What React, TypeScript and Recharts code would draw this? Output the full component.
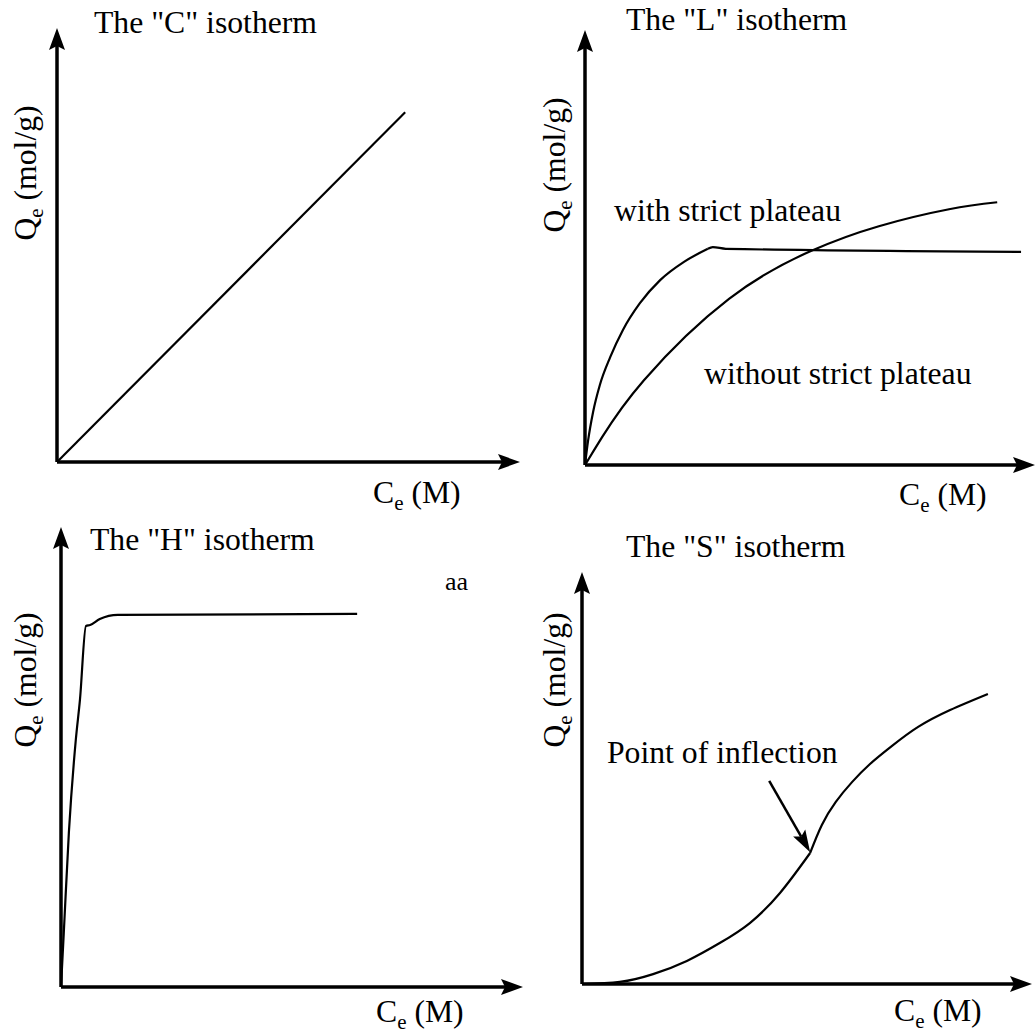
import React from "react";
import { LineChart, Line, XAxis, YAxis, ReferenceLine } from "recharts";

// values, 0..100 on both axes of each panel
const cX = [0, 75.2];
const cY = [0, 80.6];

const lRiseX = [0, 0.7, 1.8, 3.3, 5.6, 8.4, 12.2, 16.7, 22.0, 27.3];
const lRiseY = [0, 5.7, 12.2, 18.4, 24.8, 31.0, 37.2, 42.5, 46.7, 49.7];
const lFlatX = [27.3, 28.4, 31.3, 96.9];
const lFlatY = [49.7, 50.1, 49.7, 49.0];
const lFreeX = [0, 3.8, 13.1, 32.0, 50.2, 65.3, 80.9, 91.6];
const lFreeY = [0, 6.4, 19.5, 38.2, 49.2, 54.9, 58.8, 60.4];

const hX = [0, 0.6, 1.7, 3.2, 4.1, 5.4, 6.3, 8.4, 12.3, 64.1];
const hY = [0, 11.7, 33.5, 53.7, 62.4, 78.5, 78.7, 80.0, 80.9, 81.1];

const sLowX = [0, 8.4, 15.8, 23.3, 30.7, 37.3, 44.0, 50.7];
const sLowY = [0, 0.5, 2.4, 5.6, 10.0, 14.8, 22.1, 31.8];
const sHighX = [50.7, 53.3, 56.4, 60.0, 64.0, 68.9, 74.7, 81.8, 90.2];
const sHighY = [31.8, 38.6, 44.2, 49.0, 53.4, 57.8, 62.4, 66.5, 70.4];

// arrow pointing at the inflection point
const inflectionArrow = [
  { x: 41.6, y: 49.3 },
  { x: 50.7, y: 32.0 },
];

const toPoints = (xs: number[], ys: number[]) => xs.map((x, i) => ({ x, y: ys[i] }));

const FONT = "Liberation Serif, Times New Roman, serif";
const FS = 31.7;
const SUB = 21;
const PAD = 14;

type Geo = { ox: number; oy: number; xt: number; yt: number };
type Curve = "linear" | "monotone" | "natural";

const arrowShape = (len: number, half: number, width: number) => (props: any) => {
  const { x1, y1, x2, y2 } = props;
  const dx = x2 - x1;
  const dy = y2 - y1;
  const d = Math.sqrt(dx * dx + dy * dy) || 1;
  const ux = dx / d;
  const uy = dy / d;
  const bx = x2 - ux * len;
  const by = y2 - uy * len;
  const pts = [
    [x2, y2],
    [bx - uy * half, by + ux * half],
    [bx + ux * 4, by + uy * 4],
    [bx + uy * half, by - ux * half],
  ]
    .map((p) => p.join(","))
    .join(" ");
  return (
    <g>
      <line x1={x1} y1={y1} x2={bx + ux * 4} y2={by + uy * 4} stroke="#000" strokeWidth={width} />
      <polygon points={pts} fill="#000" />
    </g>
  );
};

const axisArrow = arrowShape(22, 8, 3.5);
const noteArrow = arrowShape(22, 7, 2.5);

function Panel({
  geo,
  series,
  extra,
}: {
  geo: Geo;
  series: { pts: { x: number; y: number }[]; type: Curve }[];
  extra?: React.ReactNode;
}) {
  const w = geo.xt - geo.ox + PAD * 2;
  const h = geo.oy - geo.yt + PAD * 2;
  return (
    <div style={{ position: "absolute", left: geo.ox - PAD, top: geo.yt - PAD }}>
      <LineChart width={w} height={h} margin={{ top: PAD, right: PAD, bottom: PAD, left: PAD }}>
        <XAxis type="number" dataKey="x" domain={[0, 100]} hide allowDataOverflow />
        <YAxis type="number" dataKey="y" domain={[0, 100]} hide allowDataOverflow />
        <ReferenceLine segment={[{ x: 0, y: 0 }, { x: 100, y: 0 }]} shape={axisArrow} ifOverflow="visible" />
        <ReferenceLine segment={[{ x: 0, y: 0 }, { x: 0, y: 100 }]} shape={axisArrow} ifOverflow="visible" />
        {series.map((s, i) => (
          <Line
            key={i}
            data={s.pts}
            dataKey="y"
            type={s.type}
            dot={false}
            activeDot={false}
            stroke="#000"
            strokeWidth={2.2}
            isAnimationActive={false}
          />
        ))}
        {extra}
      </LineChart>
    </div>
  );
}

const T = (props: any) => (
  <text style={{ fontFamily: FONT, fontSize: props.fontSize || FS }} fill="#000" {...props} />
);

function YLabel({ x, y }: { x: number; y: number }) {
  return (
    <T x={x} y={y} textAnchor="middle" transform={`rotate(-90, ${x}, ${y})`}>
      Q
      <tspan fontSize={SUB} dy={7}>
        e
      </tspan>
      <tspan dy={-7}> (mol/g)</tspan>
    </T>
  );
}

function XLabel({ x, y }: { x: number; y: number }) {
  return (
    <T x={x} y={y}>
      C
      <tspan fontSize={SUB} dy={7}>
        e
      </tspan>
      <tspan dy={-7}> (M)</tspan>
    </T>
  );
}

export default function App() {
  return (
    <div
      style={{
        position: "absolute",
        left: 0,
        top: 0,
        width: 1036,
        height: 1035,
        overflow: "hidden",
        background: "#fff",
      }}
    >
      <Panel
        geo={{ ox: 57, oy: 462, xt: 520, yt: 28 }}
        series={[{ pts: toPoints(cX, cY), type: "linear" }]}
      />
      <Panel
        geo={{ ox: 585, oy: 465, xt: 1035, yt: 30 }}
        series={[
          { pts: toPoints(lRiseX, lRiseY), type: "monotone" },
          { pts: toPoints(lFlatX, lFlatY), type: "monotone" },
          { pts: toPoints(lFreeX, lFreeY), type: "natural" },
        ]}
      />
      <Panel
        geo={{ ox: 61, oy: 987, xt: 523, yt: 527 }}
        series={[{ pts: toPoints(hX, hY), type: "monotone" }]}
      />
      <Panel
        geo={{ ox: 582, oy: 984, xt: 1032, yt: 572 }}
        series={[
          { pts: toPoints(sLowX, sLowY), type: "natural" },
          { pts: toPoints(sHighX, sHighY), type: "natural" },
        ]}
        extra={<ReferenceLine segment={inflectionArrow} shape={noteArrow} ifOverflow="visible" />}
      />
      <svg width={1036} height={1035} style={{ position: "absolute", left: 0, top: 0, pointerEvents: "none" }}>
        <T x={94} y={33}>The "C" isotherm</T>
        <T x={626} y={30}>The "L" isotherm</T>
        <T x={90} y={550}>The "H" isotherm</T>
        <T x={626} y={557}>The "S" isotherm</T>
        <T x={614} y={221}>with strict plateau</T>
        <T x={704} y={384}>without strict plateau</T>
        <T x={445} y={590} fontSize={26}>aa</T>
        <T x={607} y={763}>Point of inflection</T>
        <XLabel x={373} y={503} />
        <XLabel x={899} y={505} />
        <XLabel x={376} y={1022} />
        <XLabel x={894} y={1021} />
        <YLabel x={36} y={173} />
        <YLabel x={565} y={165} />
        <YLabel x={36} y={680} />
        <YLabel x={565} y={680} />
      </svg>
    </div>
  );
}
